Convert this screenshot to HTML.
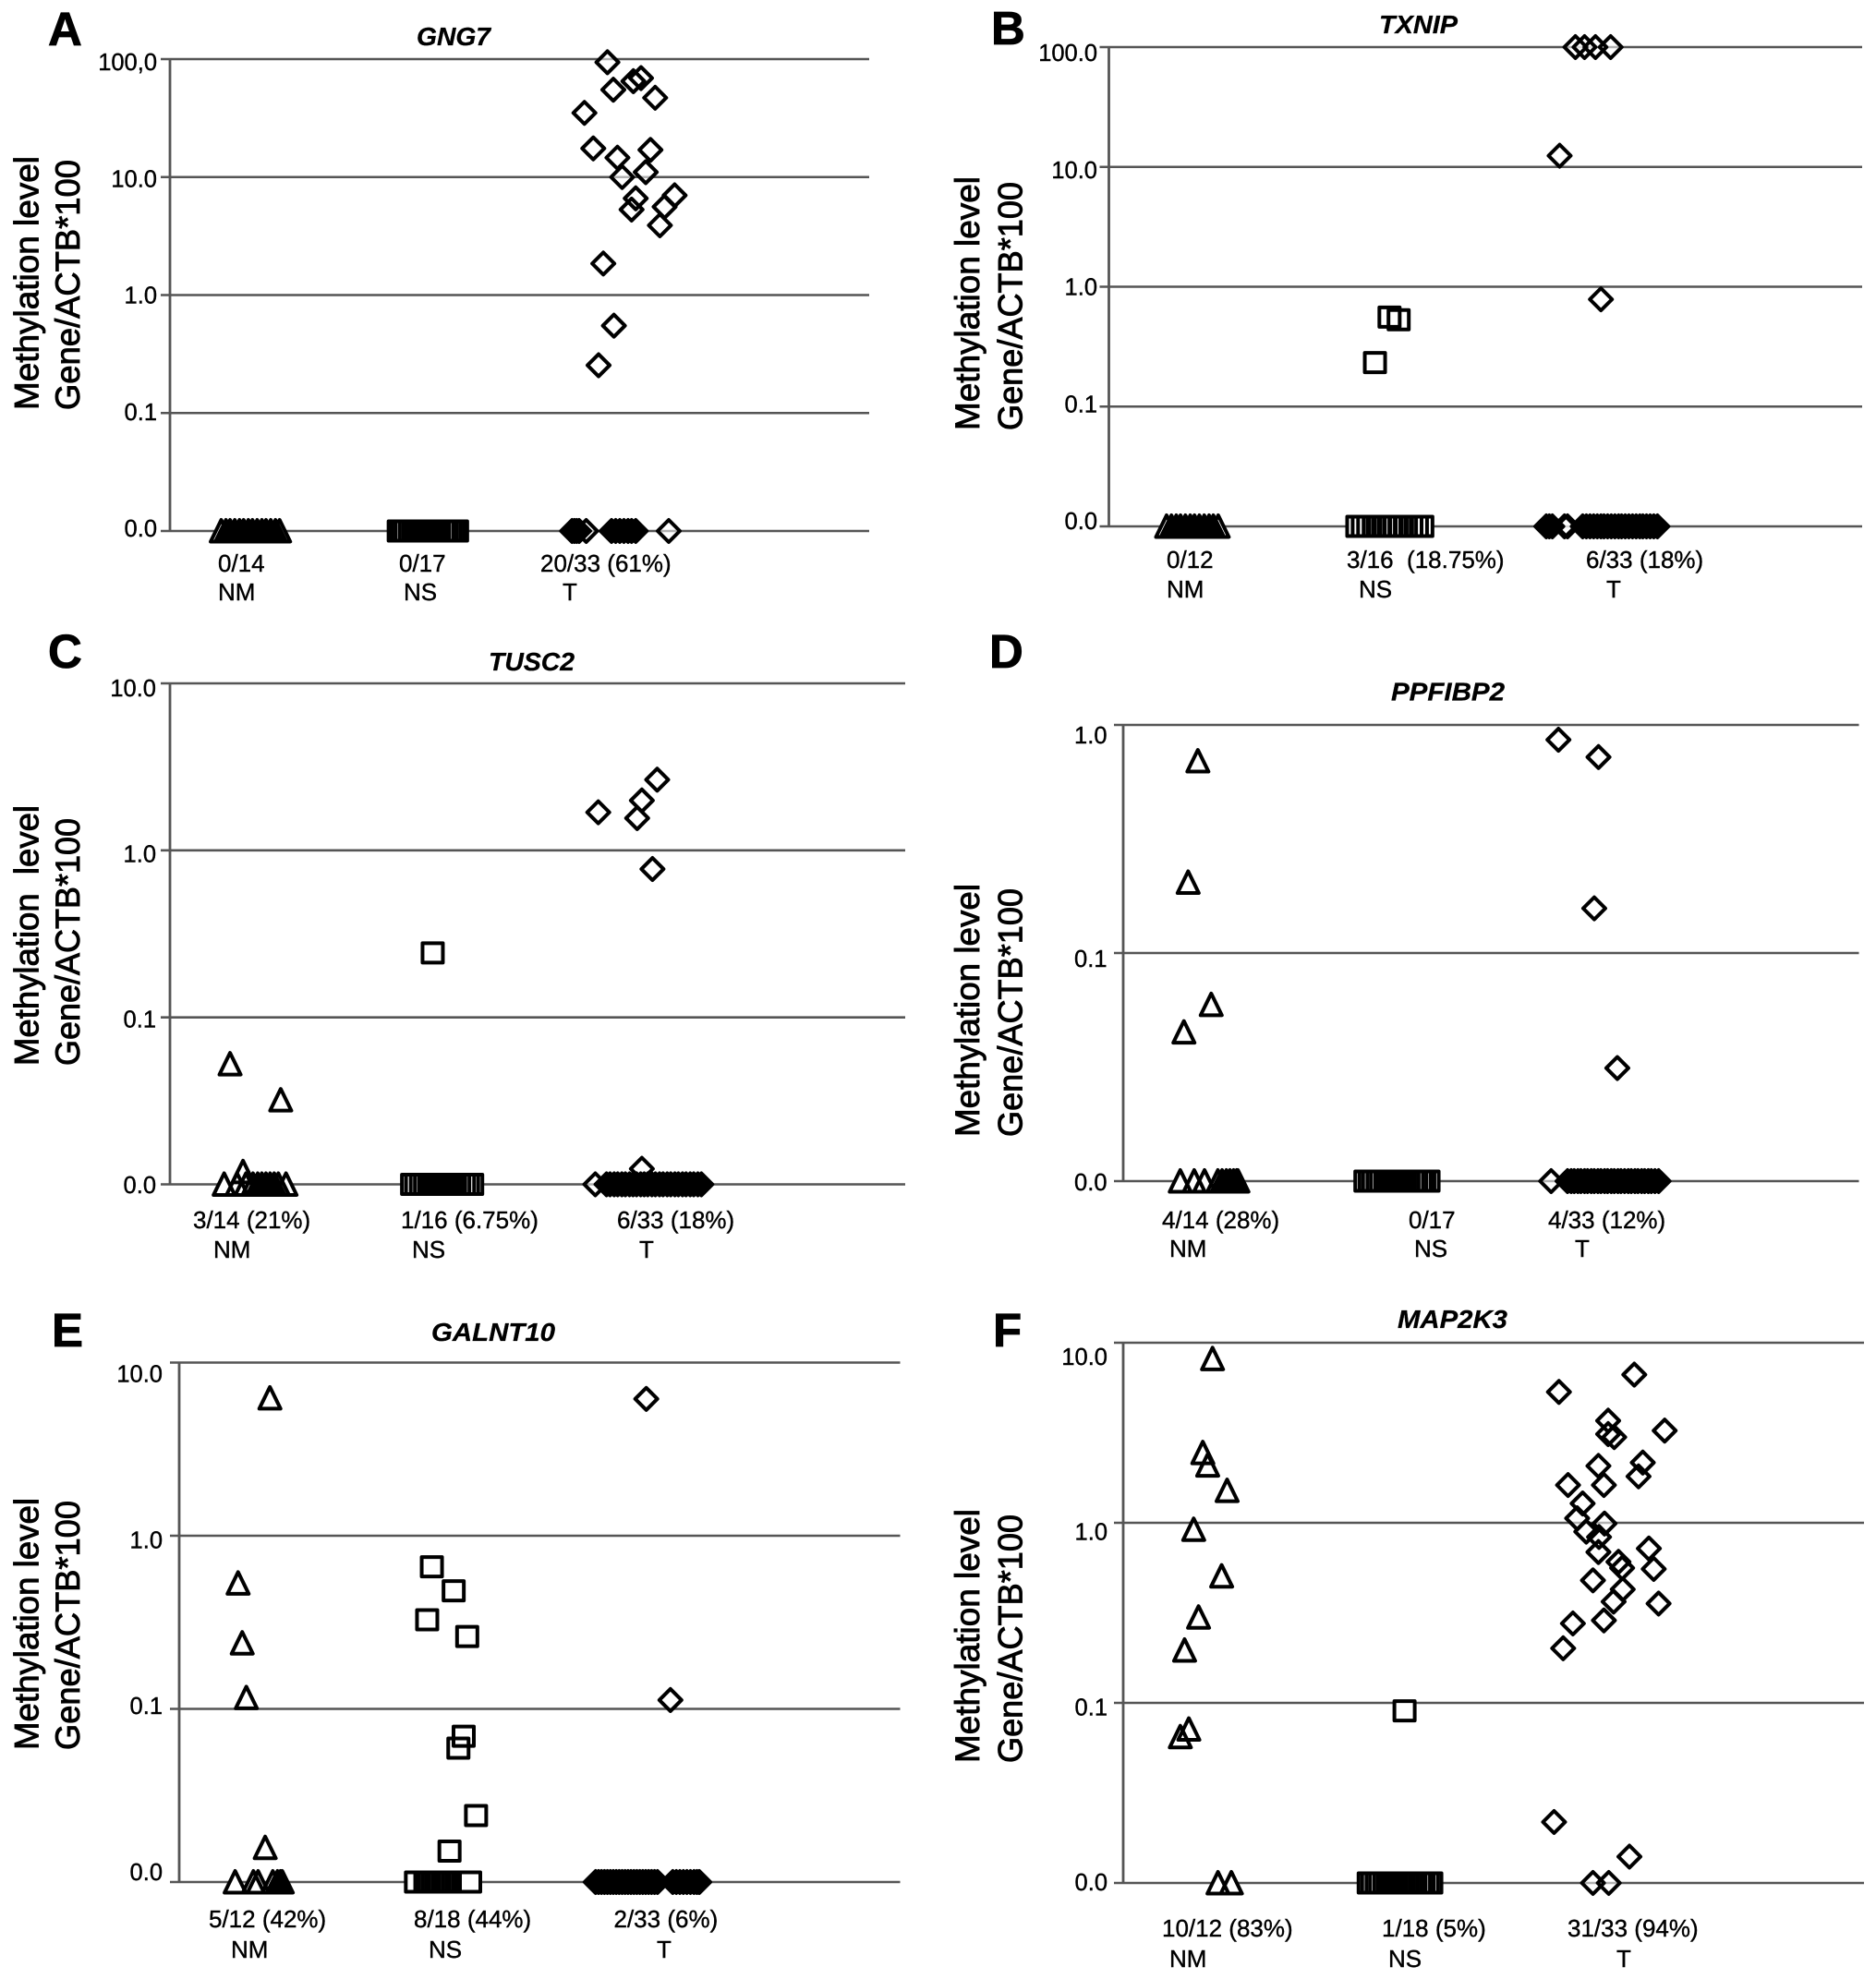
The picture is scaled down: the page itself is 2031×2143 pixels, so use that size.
<!DOCTYPE html>
<html lang="en">
<head>
<meta charset="utf-8">
<title>Methylation level by gene</title>
<style>
html,body{margin:0;padding:0;background:#fff;}
svg{display:block;}
text{font-family:"Liberation Sans",Arial,sans-serif;fill:#000;}
</style>
</head>
<body>
<svg id="figure" xmlns="http://www.w3.org/2000/svg" width="2031" height="2143" viewBox="0 0 2031 2143"></svg>
<script>
/* Shared categories */
const GROUP_NAMES = ["NM", "NS", "T"];
const TICK_VALUES_5 = [0.01, 0.1, 1, 10, 100];
const TICK_VALUES_4 = [0.01, 0.1, 1, 10];
const TICK_VALUES_3 = [0.01, 0.1, 1];

/* Panel A: GNG7 */
const A_TICKS = ["0.0", "0.1", "1.0", "10.0", "100,0"];
const A_COUNTS = ["0/14", "0/17", "20/33 (61%)"];
const A_NM_X = [];
const A_NM_Y = [];
const A_NM_ZERO = [376,384,391,399,407,414,422,429,437,445,452,460,468,475];
const A_NS_X = [];
const A_NS_Y = [];
const A_NS_ZERO = [677,683,689,696,702,708,714,721,727,733,739,745,752,758,764,770,776];
const A_T_X = [1031,1041,1075,1088,1112,992,1007,1104,1048,1096,1056,1079,1145,1128,1072,1120,1024,1042,1016];
const A_T_Y = [94,55,65,69,47,35,17.5,17,14.6,11,10,6.6,7,5.6,5.3,3.9,1.85,0.55,0.254];
const A_T_ZERO = [971,975,979,983,995,1038,1045,1052,1059,1066,1072,1079,1135];

/* Panel B: TXNIP */
const B_TICKS = ["0.0", "0.1", "1.0", "10.0", "100.0"];
const B_COUNTS = ["0/12", "3/16\u00a0 (18.75%)", "6/33 (18%)"];
const B_NM_X = [];
const B_NM_Y = [];
const B_NM_ZERO = [400,408,416,423,431,439,446,454,462,470,477,485];
const B_NS_X = [767,782,743];
const B_NS_Y = [0.558,0.53,0.233];
const B_NS_ZERO = [714,723,732,741,750,759,768,776,785,794,803,812,821];
const B_T_X = [1073,1088,1106,1131,1047,1115];
const B_T_Y = [100,100,100,100,12.4,0.785];
const B_T_ZERO = [1025,1030,1035,1055,1060,1085,1091,1097,1103,1109,1115,1120,1126,1132,1138,1144,1149,1155,1161,1167,1173,1179,1184,1190,1196,1202,1208];

/* Panel C: TUSC2 */
const C_TICKS = ["0.0", "0.1", "1.0", "10.0"];
const C_COUNTS = ["3/14 (21%)", "1/16 (6.75%)", "6/33 (18%)"];
const C_NM_X = [391,477,413];
const C_NM_Y = [0.0526,0.032,0.0119];
const C_NM_ZERO = [381,403,418,430,438,445,452,459,466,473,486];
const C_NS_X = [735];
const C_NS_Y = [0.243];
const C_NS_ZERO = [700,707,715,722,729,736,744,751,758,766,773,780,788,795,802];
const C_T_X = [1016,1090,1116,1082,1108,1090];
const C_T_Y = [1.69,1.99,2.65,1.56,0.773,0.0124];
const C_T_ZERO = [1011,1030,1036,1043,1049,1056,1062,1069,1075,1081,1088,1094,1100,1107,1113,1120,1126,1133,1139,1146,1152,1159,1165,1172,1178,1185,1191];

/* Panel D: PPFIBP2 */
const D_TICKS = ["0.0", "0.1", "1.0"];
const D_COUNTS = ["4/14 (28%)", "0/17", "4/33 (12%)"];
const D_NM_X = [451,435,473,428];
const D_NM_Y = [0.695,0.204,0.0594,0.045];
const D_NM_ZERO = [422,445,462,484,491,498,504,510,515,517];
const D_NS_X = [];
const D_NS_Y = [];
const D_NS_ZERO = [727,734,740,747,753,760,766,772,779,785,792,798,805,811,818,824,831];
const D_T_X = [1045,1111,1104,1142];
const D_T_Y = [0.861,0.723,0.157,0.0313];
const D_T_ZERO = [1033,1060,1066,1071,1077,1082,1088,1093,1099,1104,1110,1115,1121,1126,1132,1137,1143,1148,1154,1160,1165,1171,1176,1182,1187,1193,1198,1204,1210];

/* Panel E: GALNT10 */
const E_TICKS = ["0.0", "0.1", "1.0", "10.0"];
const E_COUNTS = ["5/12 (42%)", "8/18 (44%)", "2/33 (6%)"];
const E_NM_X = [458,404,411,418,450];
const E_NM_Y = [6.24,0.532,0.24,0.116,0.0158];
const E_NM_ZERO = [399,430,438,463,471,476,479];
const E_NS_X = [733,770,725,793,787,778,808,763];
const E_NS_Y = [0.662,0.481,0.327,0.262,0.0695,0.0593,0.0242,0.0151];
const E_NS_ZERO = [706,722,728,734,740,746,752,757,762,798];
const E_T_X = [1097,1138];
const E_T_Y = [6.17,0.1125];
const E_T_ZERO = [1011,1016,1021,1026,1031,1036,1041,1046,1051,1056,1061,1066,1071,1076,1081,1086,1091,1096,1101,1106,1111,1116,1142,1148,1154,1160,1166,1172,1178,1183,1187];

/* Panel F: MAP2K3 */
const F_TICKS = ["0.0", "0.1", "1.0", "10.0"];
const F_COUNTS = ["10/12 (83%)", "1/18 (5%)", "31/33 (94%)"];
const F_NM_X = [476,460,468,500,445,491,453,430,437,423];
const F_NM_Y = [8.15,2.45,2.09,1.51,0.918,0.506,0.299,0.196,0.0714,0.0648];
const F_NM_ZERO = [485,507];
const F_NS_X = [792];
const F_NS_Y = [0.0903];
const F_NS_ZERO = [733,739,746,752,759,765,772,778,785,791,797,804,810,817,823,830,836];
const F_T_X = [1046,1170,1127,1220,1127,1137,1111,1184,1177,1120,1061,1085,1076,1121,1091,1112,1111,1194,1144,1150,1202,1102,1151,1136,1210,1120,1069,1053,1038,1162];
const F_T_Y = [5.33,6.65,3.69,3.25,3.11,2.99,2.07,2.16,1.81,1.62,1.62,1.28,1.06,0.99,0.893,0.834,0.688,0.72,0.607,0.561,0.554,0.479,0.427,0.365,0.356,0.287,0.276,0.201,0.0218,0.014];
const F_T_ZERO = [1102,1128];

/* Layout only: data arrays above hold every value */
const panels = [
 {id:"a", letter:"A", lx:52, ly:49, gene:"GNG7", gx:451, gy:49, gw:80,
  x0:184, x1:941, dom:[289,1475], yTop:64, yBase:575, tickValues:TICK_VALUES_5, ticks:A_TICKS, tickRight:170, dyTop:12, dyBase:6,
  t1:[41.5,444,275,"Methylation level"], t2:[86,444,271],
  counts:A_COUNTS, cx:[236,432,585], nx:[236,437,609], cy:619, ny:650,
  series:[[ "triangle",A_NM_X,A_NM_Y,A_NM_ZERO],["square",A_NS_X,A_NS_Y,A_NS_ZERO],["diamond",A_T_X,A_T_Y,A_T_ZERO]]},
 {id:"b", letter:"B", lx:1073, ly:48, gene:"TXNIP", gx:1493, gy:36, gw:85,
  x0:1200.5, x1:2016, dom:[305,1545], yTop:51, yBase:570, tickValues:TICK_VALUES_5, ticks:B_TICKS, tickRight:1188, dyTop:15, dyBase:3,
  t1:[1060,466,275,"Methylation level"], t2:[1106.5,466,269],
  counts:B_COUNTS, cx:[1263,1458,1717], nx:[1263,1471,1739], cy:615, ny:647,
  series:[["triangle",B_NM_X,B_NM_Y,B_NM_ZERO],["square",B_NS_X,B_NS_Y,B_NS_ZERO],["diamond",B_T_X,B_T_Y,B_T_ZERO]]},
 {id:"c", letter:"C", lx:52, ly:723, gene:"TUSC2", gx:529, gy:726, gw:93,
  x0:184, x1:980, dom:[289,1537], yTop:740, yBase:1282.5, tickValues:TICK_VALUES_4, ticks:C_TICKS, tickRight:169, dyTop:14, dyBase:9.5,
  t1:[41.5,1154,282,"Methylation\u00a0\u00a0level"], t2:[86,1154,268],
  counts:C_COUNTS, cx:[209,434,668], nx:[231,446,692], cy:1330, ny:1362,
  series:[["triangle",C_NM_X,C_NM_Y,C_NM_ZERO],["square",C_NS_X,C_NS_Y,C_NS_ZERO],["diamond",C_T_X,C_T_Y,C_T_ZERO]]},
 {id:"d", letter:"D", lx:1071, ly:723, gene:"PPFIBP2", gx:1506, gy:758.6, gw:123,
  x0:1216, x1:2012.5, dom:[328,1540], yTop:785, yBase:1279, tickValues:TICK_VALUES_3, ticks:D_TICKS, tickRight:1198.5, dyTop:20, dyBase:10,
  t1:[1060,1231,274,"Methylation level"], t2:[1106.5,1231,269],
  counts:D_COUNTS, cx:[1258,1525,1676], nx:[1266,1531,1705], cy:1330, ny:1361,
  series:[["triangle",D_NM_X,D_NM_Y,D_NM_ZERO],["square",D_NS_X,D_NS_Y,D_NS_ZERO],["diamond",D_T_X,D_T_Y,D_T_ZERO]]},
 {id:"e", letter:"E", lx:56, ly:1458, gene:"GALNT10", gx:467, gy:1452, gw:134,
  x0:194, x1:974.5, dom:[304,1528], yTop:1475.5, yBase:2038, tickValues:TICK_VALUES_4, ticks:E_TICKS, tickRight:176, dyTop:21, dyBase:-2,
  t1:[41.5,1895,273,"Methylation level"], t2:[86,1895,270],
  counts:E_COUNTS, cx:[226,448,664.5], nx:[250,464,711], cy:2087, ny:2120,
  series:[["triangle",E_NM_X,E_NM_Y,E_NM_ZERO],["square",E_NS_X,E_NS_Y,E_NS_ZERO],["diamond",E_T_X,E_T_Y,E_T_ZERO]]},
 {id:"f", letter:"F", lx:1075, ly:1458, gene:"MAP2K3", gx:1513, gy:1438, gw:119,
  x0:1216, x1:2018, dom:[329,1548], yTop:1454, yBase:2039, tickValues:TICK_VALUES_4, ticks:F_TICKS, tickRight:1199, dyTop:24, dyBase:8,
  t1:[1060,1909,275,"Methylation level"], t2:[1106.5,1909,269],
  counts:F_COUNTS, cx:[1258,1496,1697], nx:[1266,1503,1750], cy:2097, ny:2130,
  series:[["triangle",F_NM_X,F_NM_Y,F_NM_ZERO],["square",F_NS_X,F_NS_Y,F_NS_ZERO],["diamond",F_T_X,F_T_Y,F_T_ZERO]]}
];

const SVG_NS = "http://www.w3.org/2000/svg";
const svg = document.getElementById("figure");

function make(tag, attrs, parent) {
  const el = document.createElementNS(SVG_NS, tag);
  for (const k in attrs) el.setAttribute(k, attrs[k]);
  parent.appendChild(el);
  return el;
}

function shapePath(shape, cx, cy) {
  if (shape === "triangle") {
    return "M" + cx + " " + (cy - 12) + "L" + (cx + 11.5) + " " + (cy + 11.5) + "L" + (cx - 11.5) + " " + (cy + 11.5) + "Z";
  }
  if (shape === "square") {
    return "M" + (cx - 11) + " " + (cy - 10.5) + "H" + (cx + 11) + "V" + (cy + 10.5) + "H" + (cx - 11) + "Z";
  }
  return "M" + cx + " " + (cy - 12) + "L" + (cx + 12) + " " + cy + "L" + cx + " " + (cy + 12) + "L" + (cx - 12) + " " + cy + "Z";
}

function drawPanel(p) {
  const floorLog = -2;
  const topLog = Math.log10(p.tickValues[p.tickValues.length - 1]);
  const yScale = function (v) {
    const l = Math.log10(Math.max(v, 0.01));
    return p.yBase - (l - floorLog) / (topLog - floorLog) * (p.yBase - p.yTop);
  };
  const xScale = function (v) {
    return p.x0 + (v - p.dom[0]) / (p.dom[1] - p.dom[0]) * (p.x1 - p.x0);
  };

  const g = make("g", {}, svg);
  
  

  const letter = make("text", {x: p.lx, y: p.ly, "font-size": 51, "font-weight": "bold", stroke: "#000", "stroke-width": 0.8}, g);
  
  
  letter.textContent = p.letter;

  const gene = make("text", {x: p.gx, y: p.gy, "font-size": 28, "font-weight": "bold", "font-style": "italic", textLength: p.gw, lengthAdjust: "spacingAndGlyphs", stroke: "#000", "stroke-width": 0.3}, g);
  
  
  gene.textContent = p.gene;

  const yTitle1 = make("text", {transform: "translate(" + p.t1[0] + "," + p.t1[1] + ") rotate(-90)", "font-size": 37, textLength: p.t1[2], lengthAdjust: "spacingAndGlyphs", stroke: "#000", "stroke-width": 0.9}, g);
  
  
  yTitle1.textContent = p.t1[3];

  const yTitle2 = make("text", {transform: "translate(" + p.t2[0] + "," + p.t2[1] + ") rotate(-90)", "font-size": 37, textLength: p.t2[2], lengthAdjust: "spacingAndGlyphs", stroke: "#000", "stroke-width": 0.9}, g);
  
  
  yTitle2.textContent = "Gene/ACTB*100";

  p.tickValues.forEach(function (tv, i) {
    const y = yScale(tv);
    const grid = make("line", {x1: p.x0 - 10, x2: p.x1, y1: y, y2: y, stroke: "#555", "stroke-width": 2.6}, g);
    
    
    const t = (y - p.yBase) / (p.yTop - p.yBase);
    const label = make("text", {x: p.tickRight, y: y + p.dyBase + (p.dyTop - p.dyBase) * t, "font-size": 25.5, "text-anchor": "end", stroke: "#000", "stroke-width": 0.4}, g);
    
    
    label.textContent = p.ticks[i];
  });

  const axis = make("line", {x1: p.x0, x2: p.x0, y1: p.yTop - 1, y2: p.yBase + 1, stroke: "#555", "stroke-width": 2.8}, g);
  
  

  const under = make("g", {}, g);
  
  
  const solid = make("g", {}, g);
  
  
  const over = make("g", {}, g);
  
  

  p.series.forEach(function (s, si) {
    const shape = s[0];
    const xs = s[1].concat(s[3]);
    const ys = s[2].concat(s[3].map(function () { return 0; }));
    const firstZero = s[1].length;
    xs.forEach(function (xv, i) {
      const cx = xScale(xv);
      const cy = yScale(ys[i]);
      const d = shapePath(shape, cx, cy);
      const bg = make("path", {d: d, fill: "#fff", "fill-opacity": shape === "diamond" ? 0.55 : 1, stroke: "none"}, under);
      
      
      /* tightly stacked triangles and diamonds on the zero line merge into a solid block */
      const hasPrev = i > firstZero && Math.abs(xScale(xs[i - 1]) - cx) <= 7;
      const hasNext = i >= firstZero && i < xs.length - 1 && Math.abs(xScale(xs[i + 1]) - cx) <= 7;
      if (shape !== "square" && hasPrev && hasNext) {
        const block = make("path", {d: d, fill: "#000", stroke: "none"}, solid);
        
        
      }
      const mark = make("path", {d: d, fill: "none", stroke: "#000", "stroke-width": 4, "stroke-linejoin": "round"}, over);
      
      
    });

    const count = make("text", {x: p.cx[si], y: p.cy, "font-size": 26, stroke: "#000", "stroke-width": 0.4}, g);
    
    
    count.textContent = p.counts[si];

    const groupName = make("text", {x: p.nx[si], y: p.ny, "font-size": 26, stroke: "#000", "stroke-width": 0.4}, g);
    
    
    groupName.textContent = GROUP_NAMES[si];
  });
}

panels.forEach(drawPanel);
</script>
</body>
</html>
